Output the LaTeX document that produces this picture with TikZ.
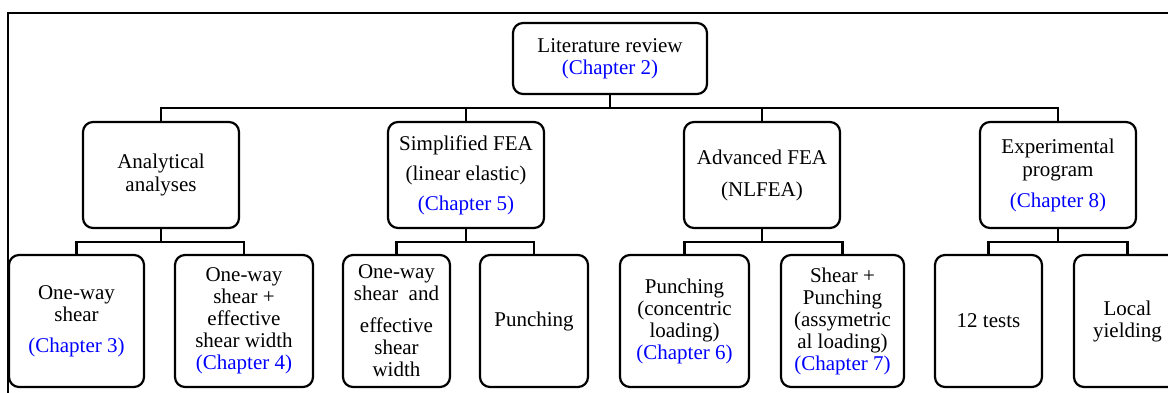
\documentclass[tikz,border=0pt]{standalone}
\usepackage{fontspec}
\setmainfont{Liberation Serif}
\begin{document}
\begin{tikzpicture}[x=1pt,y=-1pt,
  box/.style={draw=black,line width=2.2pt,rounded corners=10pt,fill=white,
    align=center,inner sep=0pt,font=\fontsize{21}{22}\selectfont},
  l2/.style={box,minimum width=156pt,minimum height=106pt},
  l3/.style={box,minimum height=132pt},
  conn/.style={draw=black,line width=2.2pt},
  chap/.style={text=blue}]
\useasboundingbox (0,0) rectangle (1168,392);
\clip (0,0) rectangle (1168,392);
\draw[line width=1.1pt] (8,13) rectangle (1200,420);
% level 1
\node[box,minimum width=194pt,minimum height=71pt] (lit) at (610,58.5)
  {Literature review\\\textcolor{blue}{(Chapter 2)}};
% level 2
\node[l2] (ana) at (161,175) {Analytical\\[1pt]analyses};
\node[l2] (sim) at (466,175) {Simplified FEA\\[8pt](linear elastic)\\[8pt]\textcolor{blue}{(Chapter 5)}};
\node[l2] (adv) at (762,175) {Advanced FEA\\[10pt](NLFEA)};
\node[l2] (exp) at (1058,175) {Experimental\\[1pt]program\\[9pt]\textcolor{blue}{(Chapter 8)}};
% level 3
\node[l3,minimum width=135pt] (b1) at (76.5,321) {One-way\\shear\\[9pt]\textcolor{blue}{(Chapter 3)}};
\node[l3,minimum width=138pt] (b2) at (244,321) {One-way\\shear +\\effective\\shear width\\\textcolor{blue}{(Chapter 4)}};
\node[l3,minimum width=107pt] (b3) at (396.5,321) {One-way\\shear\ \ and\\[10pt]effective\\shear\\width};
\node[l3,minimum width=108pt] (b4) at (534,321) {Punching};
\node[l3,minimum width=129pt] (b5) at (684.5,321) {Punching\\(concentric\\loading)\\\textcolor{blue}{(Chapter 6)}};
\node[l3,minimum width=123pt] (b6) at (842.5,321) {Shear +\\Punching\\(assymetric\\al loading)\\\textcolor{blue}{(Chapter 7)}};
\node[l3,minimum width=107pt] (b7) at (988.5,321) {12 tests};
\node[l3,minimum width=107pt] (b8) at (1127.5,321) {Local\\yielding};
% buses
\coordinate (bus) at (0,108);
\coordinate (sbus) at (0,242);
\draw[conn] (lit.south) -- (lit.south |- bus);
\draw[conn] (ana.north) -- (ana.north |- bus) -- (exp.north |- bus) -- (exp.north);
\draw[conn] (sim.north) -- (sim.north |- bus);
\draw[conn] (adv.north) -- (adv.north |- bus);
% sub buses
\draw[conn] (ana.south) -- (ana.south |- sbus);
\draw[conn] (b1.north) -- (b1.north |- sbus) -- (b2.north |- sbus) -- (b2.north);
\draw[conn] (sim.south) -- (sim.south |- sbus);
\draw[conn] (b3.north) -- (b3.north |- sbus) -- (b4.north |- sbus) -- (b4.north);
\draw[conn] (adv.south) -- (adv.south |- sbus);
\draw[conn] (b5.north) -- (b5.north |- sbus) -- (b6.north |- sbus) -- (b6.north);
\draw[conn] (exp.south) -- (exp.south |- sbus);
\draw[conn] (b7.north) -- (b7.north |- sbus) -- (b8.north |- sbus) -- (b8.north);
\end{tikzpicture}
\end{document}
